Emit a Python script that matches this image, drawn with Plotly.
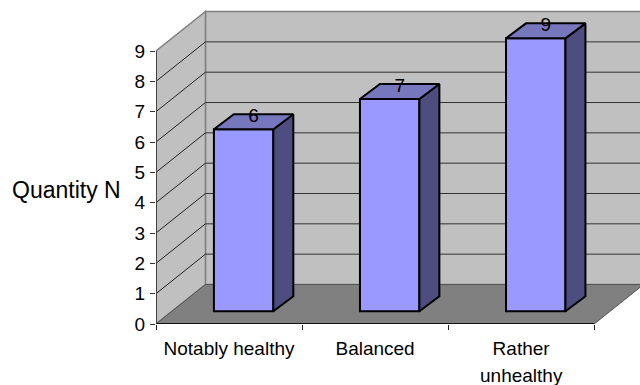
import plotly.graph_objects as go

categories = ["Notably healthy", "Balanced", "Rather"]
category_second_line = [None, None, "unhealthy"]
values = [6, 7, 9]
y_ticks = [0, 1, 2, 3, 4, 5, 6, 7, 8, 9]
y_title = "Quantity N"

# Projection of the pseudo-3D scene, in pixels per axis unit
PX_X = 146.2
PX_Y = 30.33
LEFT, BOTTOM, TOP, WIDTH, HEIGHT = 155.5, 324, 10, 640, 385
WALL_DX, WALL_DY = 49.5 / PX_X, 39.5 / PX_Y
BAR_OFF_X, BAR_BASE = 0.1, 12.7 / PX_Y
BAR_W = 59.5 / PX_X
BAR_DX, BAR_DY = 20 / PX_X, 15 / PX_Y

C_WALL, C_FLOOR, C_FRONT, C_TOP, C_SIDE = "#c0c0c0", "#808080", "#9999ff", "#7777bd", "#4d4d80"
FONT = "Liberation Sans, Arial, sans-serif"

x0, x1 = -0.5, len(categories) - 0.5
ymax = max(y_ticks)

shapes = []
def poly(pts, fill, line=C_FLOOR, w=1):
    path = "M " + " L ".join(f"{a},{b}" for a, b in pts) + " Z"
    shapes.append(dict(type="path", path=path, fillcolor=fill, layer="below",
                       line=dict(color=line, width=w)))

# back wall, left wall, floor
poly([(x0 + WALL_DX, WALL_DY), (x1 + WALL_DX, WALL_DY), (x1 + WALL_DX, ymax + WALL_DY), (x0 + WALL_DX, ymax + WALL_DY)], C_WALL, C_FLOOR, 1.5)
poly([(x0, 0), (x0 + WALL_DX, WALL_DY), (x0 + WALL_DX, ymax + WALL_DY), (x0, ymax)], C_WALL, C_FLOOR, 1.5)
poly([(x0, 0), (x1, 0), (x1 + WALL_DX, WALL_DY), (x0 + WALL_DX, WALL_DY)], C_FLOOR, "#555555", 1)

# gridlines on both walls
for t in y_ticks[1:-1]:
    shapes.append(dict(type="line", x0=x0, y0=t, x1=x0 + WALL_DX, y1=t + WALL_DY, layer="below",
                       line=dict(color="#222222", width=1)))
    shapes.append(dict(type="line", x0=x0 + WALL_DX, y0=t + WALL_DY, x1=x1 + WALL_DX, y1=t + WALL_DY,
                       layer="below", line=dict(color="#333333", width=1)))

fig = go.Figure()

xs = [i + BAR_OFF_X for i in range(len(values))]
fig.add_trace(go.Bar(x=xs, y=values, base=BAR_BASE, width=BAR_W,
                     marker=dict(color=C_FRONT, line=dict(color="black", width=2)),
                     hoverinfo="skip", showlegend=False))

for x, v in zip(xs, values):
    l, r, b, t = x - BAR_W / 2, x + BAR_W / 2, BAR_BASE, BAR_BASE + v
    fig.add_trace(go.Scatter(
        x=[r, r + BAR_DX, r + BAR_DX, r, r], y=[b, b + BAR_DY, t + BAR_DY, t, b],
        mode="lines", fill="toself", fillcolor=C_SIDE, line=dict(color="black", width=2),
        hoverinfo="skip", showlegend=False))
    fig.add_trace(go.Scatter(
        x=[l, r, r + BAR_DX, l + BAR_DX, l], y=[t, t, t + BAR_DY, t + BAR_DY, t],
        mode="lines", fill="toself", fillcolor=C_TOP, line=dict(color="black", width=2),
        hoverinfo="skip", showlegend=False))

fig.add_trace(go.Scatter(
    x=[x + BAR_DX / 2 for x in xs], y=[BAR_BASE + v + 0.4 for v in values],
    text=[str(v) for v in values], mode="text", textposition="middle center",
    textfont=dict(family=FONT, size=19, color="black"), hoverinfo="skip", showlegend=False))

# Axis lines (only as long as the floor and the value scale)
fig.add_trace(go.Scatter(x=[x0, x1], y=[0, 0], mode="lines", cliponaxis=False,
                         line=dict(color="#111111", width=2), hoverinfo="skip", showlegend=False))
fig.add_trace(go.Scatter(x=[x0, x0], y=[0, ymax], mode="lines", cliponaxis=False,
                         line=dict(color="#444444", width=2), hoverinfo="skip", showlegend=False))

annotations = [dict(text=y_title, xref="paper", yref="paper", x=-33 / (WIDTH - LEFT), y=(BOTTOM - 190) / (BOTTOM - TOP),
                    xanchor="right", yanchor="middle", showarrow=False,
                    font=dict(family=FONT, size=23, color="black"))]
for i, s in enumerate(category_second_line):
    if s:
        annotations.append(dict(text=s, x=i, xref="x", yref="paper", y=-51 / (BOTTOM - TOP),
                                xanchor="center", yanchor="middle", showarrow=False,
                                font=dict(family=FONT, size=19, color="black")))

fig.update_layout(
    width=WIDTH, height=HEIGHT, autosize=False,
    margin=dict(l=LEFT, r=0, t=TOP, b=HEIGHT - BOTTOM, pad=0),
    paper_bgcolor="white", plot_bgcolor="white", showlegend=False,
    shapes=shapes, annotations=annotations,
    xaxis=dict(range=[x0, x0 + (WIDTH - LEFT) / PX_X], tickmode="array",
               tickvals=list(range(len(categories))), ticktext=categories,
               showgrid=False, zeroline=False, showline=False, ticks="",
               ticklabelstandoff=11,
               tickfont=dict(family=FONT, size=19, color="black"),
               minor=dict(tick0=0.5, dtick=1, ticks="outside", ticklen=5, tickcolor="#222222",
                          tickwidth=1, showgrid=False)),
    yaxis=dict(range=[0, (BOTTOM - TOP) / PX_Y], tickmode="array", tickvals=y_ticks,
               showgrid=False, zeroline=False, showline=False, ticks="outside", ticklen=5,
               tickcolor="#333333", tickwidth=1, ticklabelstandoff=1,
               tickfont=dict(family=FONT, size=19, color="black")),
)

fig.write_html("out.html", config=dict(displayModeBar=False),
               post_script="document.body.style.margin='0';document.documentElement.style.overflow='hidden';")
